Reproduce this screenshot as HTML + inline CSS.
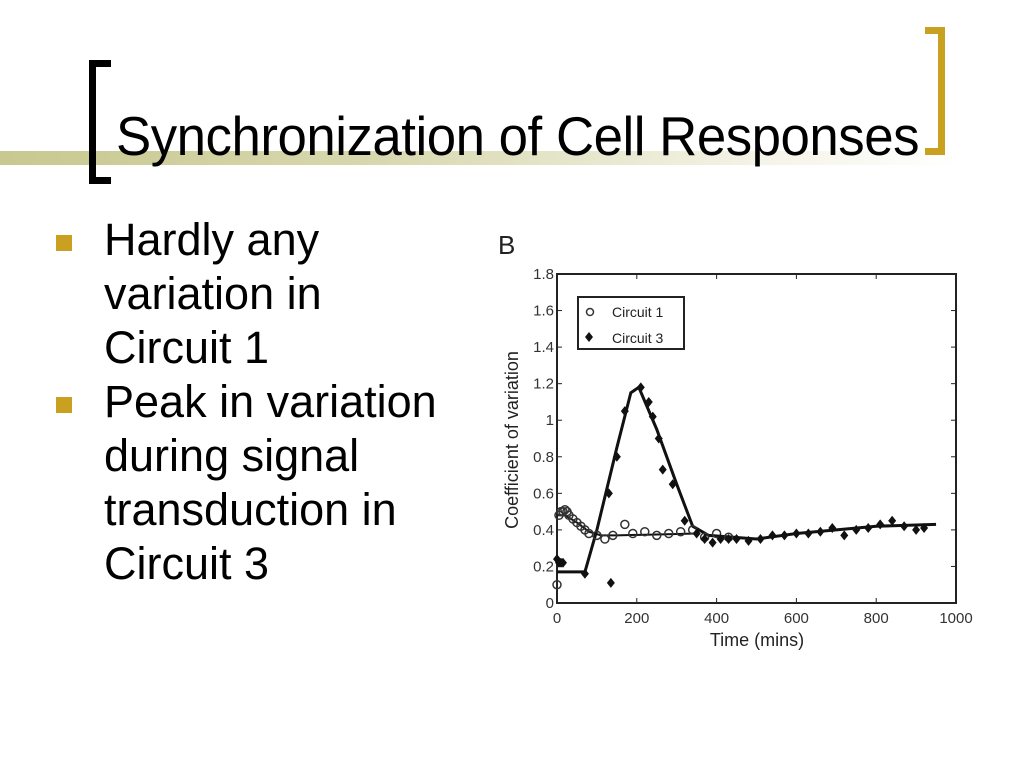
<!DOCTYPE html>
<html><head><meta charset="utf-8"><style>
body{margin:0;width:1024px;height:768px;background:#fff;position:relative;overflow:hidden;font-family:"Liberation Sans",sans-serif}
.abs{position:absolute}
</style></head><body>
<div class="abs" style="left:0;top:151px;width:960px;height:14px;background:linear-gradient(to right,#c8c890 0%,#d8d8b0 40%,#f4f4e8 80%,#fff 100%)"></div>
<div class="abs" style="left:89px;top:60px;width:22px;height:124px;border:7px solid #000;border-right:none;box-sizing:border-box"></div>
<div class="abs" style="left:925px;top:27px;width:20px;height:128px;border:7px solid #c9a020;border-left:none;box-sizing:border-box"></div>
<div class="abs" style="left:116px;top:104px;font-size:55px;letter-spacing:-0.5px;color:#000;white-space:nowrap;transform:scaleX(0.96);transform-origin:left top">Synchronization of Cell Responses</div>
<div class="abs" style="left:56px;top:213px;font-size:45px;line-height:54px;color:#000;white-space:nowrap">
 <div style="position:relative;padding-left:48px"><span style="position:absolute;left:0;top:22px;width:16px;height:16px;background:#c9a020"></span>Hardly any<br>variation in<br>Circuit 1</div>
 <div style="position:relative;padding-left:48px"><span style="position:absolute;left:0;top:22px;width:16px;height:16px;background:#c9a020"></span>Peak in variation<br>during signal<br>transduction in<br>Circuit 3</div>
</div>
<svg class="abs" style="left:0;top:0" width="1024" height="768" id="chart"></svg>
<script>
const xTicks=[0,200,400,600,800,1000];
const yTicks=[0,0.2,0.4,0.6,0.8,1,1.2,1.4,1.6,1.8];
const yTickLabels=["0","0.2","0.4","0.6","0.8","1","1.2","1.4","1.6","1.8"];
const c1x=[0,5,10,15,20,25,30,40,50,60,70,80,100,120,140,170,190,220,250,280,310,340,370,400,430];
const c1y=[0.1,0.48,0.5,0.5,0.51,0.5,0.48,0.46,0.44,0.42,0.4,0.38,0.37,0.35,0.37,0.43,0.38,0.39,0.37,0.38,0.39,0.4,0.36,0.38,0.36];
const c1fx=[0,20,50,80,110,150,250,350];
const c1fy=[0.48,0.48,0.44,0.39,0.37,0.37,0.375,0.38];
const c3x=[0,5,10,15,70,135,130,150,170,210,230,240,255,265,290,320,350,370,390,410,430,450,480,510,540,570,600,630,660,690,720,750,780,810,840,870,900,920];
const c3y=[0.24,0.22,0.22,0.22,0.16,0.11,0.6,0.8,1.05,1.18,1.1,1.02,0.9,0.73,0.65,0.45,0.38,0.35,0.33,0.35,0.35,0.35,0.34,0.35,0.37,0.37,0.38,0.38,0.39,0.41,0.37,0.4,0.41,0.43,0.45,0.42,0.4,0.41];
const c3fx=[0,70,100,150,185,205,250,300,340,380,500,600,800,950];
const c3fy=[0.17,0.17,0.4,0.85,1.15,1.18,0.95,0.65,0.42,0.37,0.35,0.38,0.42,0.43];
const X0=557,X1=956,Y0=603,Y1=274;
const sx=v=>X0+(X1-X0)*v/1000, sy=v=>Y0-(Y0-Y1)*v/1.8;
const svg=document.getElementById('chart'),NS='http://www.w3.org/2000/svg';
function mk(t,a,p){const e=document.createElementNS(NS,t);for(const k in a)e.setAttribute(k,a[k]);(p||svg).appendChild(e);return e;}
let e=mk('text',{x:498,y:254,'font-size':26,fill:'#222'});e.textContent='B';


e=mk('rect',{x:X0,y:Y1,width:X1-X0,height:Y0-Y1,fill:'none',stroke:'#222','stroke-width':2});


xTicks.forEach(v=>{mk('line',{x1:sx(v),x2:sx(v),y1:Y0,y2:Y0-5,stroke:'#222'});mk('line',{x1:sx(v),x2:sx(v),y1:Y1,y2:Y1+5,stroke:'#222'});
 const t=mk('text',{x:sx(v),y:Y0+20,'text-anchor':'middle','font-size':15,fill:'#333'});t.textContent=v;
 
 });
yTicks.forEach((v,i)=>{mk('line',{x1:X0,x2:X0+5,y1:sy(v),y2:sy(v),stroke:'#222'});mk('line',{x1:X1,x2:X1-5,y1:sy(v),y2:sy(v),stroke:'#222'});
 const t=mk('text',{x:X0-3,y:sy(v)+5,'text-anchor':'end','font-size':15,fill:'#333'});t.textContent=yTickLabels[i];
 
 });
e=mk('text',{x:757,y:646,'text-anchor':'middle','font-size':18,fill:'#222'});e.textContent='Time (mins)';


e=mk('text',{x:518,y:440,'text-anchor':'middle','font-size':18,fill:'#222',transform:'rotate(-90 518 440)'});e.textContent='Coefficient of variation';


const line=(xs,ys)=>xs.map((v,i)=>(i?'L':'M')+sx(v)+' '+sy(ys[i])).join('');
e=mk('path',{d:line(c1fx,c1fy),fill:'none',stroke:'#111','stroke-width':2});


e=mk('path',{d:line(c3fx,c3fy),fill:'none',stroke:'#111','stroke-width':3});


c1x.forEach((v,i)=>{const c=mk('circle',{cx:sx(v),cy:sy(c1y[i]),r:4,fill:'none',stroke:'#333','stroke-width':1.5});
 
 });
c3x.forEach((v,i)=>{const x=sx(v),y=sy(c3y[i]);const d=mk('path',{d:`M${x} ${y-5}L${x+4} ${y}L${x} ${y+5}L${x-4} ${y}Z`,fill:'#111'});
 
 });
e=mk('rect',{x:578,y:297,width:106,height:52,fill:'#fff',stroke:'#222','stroke-width':2});


mk('circle',{cx:590,cy:312,r:3.5,fill:'none',stroke:'#333','stroke-width':1.5});
mk('path',{d:'M589 332L593 337L589 342L585 337Z',fill:'#111'});
e=mk('text',{x:612,y:317,'font-size':14,fill:'#222'});e.textContent='Circuit 1';


e=mk('text',{x:612,y:343,'font-size':14,fill:'#222'});e.textContent='Circuit 3';


</script>
</body></html>
